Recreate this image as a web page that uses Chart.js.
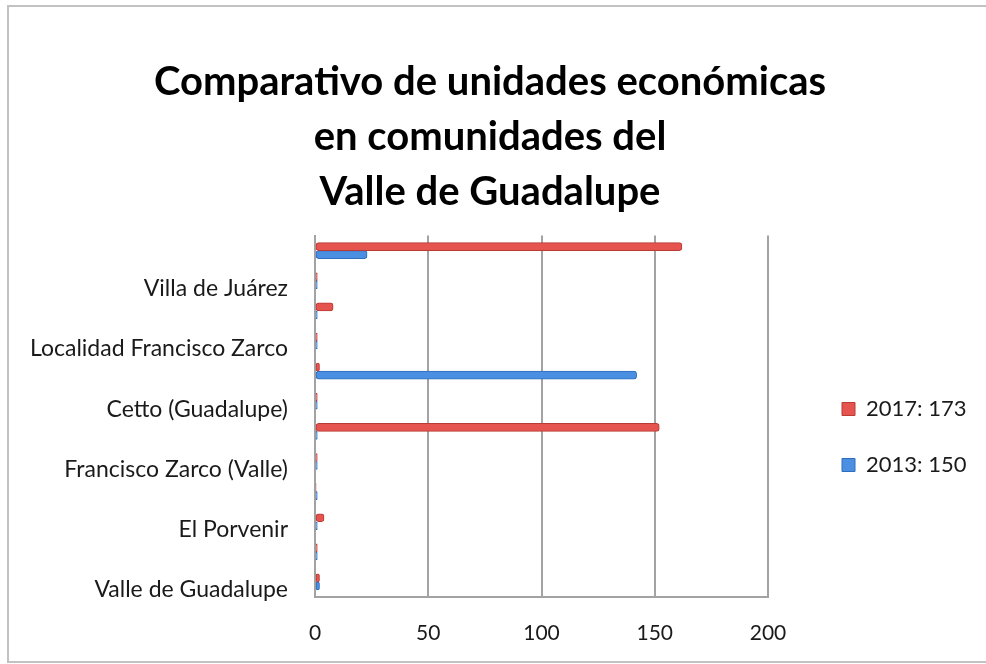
<!DOCTYPE html>
<html>
<head>
<meta charset="utf-8">
<script src="https://cdn.jsdelivr.net/npm/chart.js@4.4.1/dist/chart.umd.min.js"></script>
<style>
  html, body { margin: 0; padding: 0; background: #fff; overflow: hidden; }
  #frame { position: absolute; left: 7px; top: 5px; width: 1200px; height: 654px; border: 2px solid #c2c2c2; border-right: none; }
  #chart { position: absolute; left: 0; top: 0; }
</style>
</head>
<body>
<div id="frame"></div>
<canvas id="chart" width="986" height="664"></canvas>
<script>
const TITLE_LINES = ["Comparativo de unidades económicas", "en comunidades del", "Valle de Guadalupe"];

// top to bottom; Excel only printed every other category name
const categories = [
  "", "Villa de Juárez", "", "Localidad Francisco Zarco", "", "Cetto (Guadalupe)",
  "", "Francisco Zarco (Valle)", "", "El Porvenir", "", "Valle de Guadalupe",
];
const units2017 = [162, 1, 8, 1, 2, 1, 152, 1, 0.5, 4, 1, 2];
const units2013 = [23, 1, 1, 1, 142, 1, 1, 1, 1, 1, 1, 2];
const seriesLabels = ["2017: 173", "2013: 150"];
const xTicks = [0, 50, 100, 150, 200];

const GRID = "#a3a3a3";
const TEXT = "#1a1a1a";
const FONT = "Lato";

// Excel puts the legend well clear of the plot; nudge it over after layout
const legendNudge = {
  id: "legendNudge",
  afterLayout(chart) {
    const lg = chart.legend;
    lg.left += 40;
    lg.right += 40;
    lg.top += 105;
    lg.bottom += 105;
  },
};

new Chart(document.getElementById("chart"), {
  type: "bar",
  data: {
    labels: categories,
    datasets: [
      {
        label: seriesLabels[0],
        data: units2017,
        backgroundColor: "#e5544e",
        borderColor: "#b93b36",
        borderWidth: 1,
        borderRadius: 3,
        borderSkipped: false,
        barThickness: 8,
      },
      {
        label: seriesLabels[1],
        data: units2013,
        backgroundColor: "#4b8fe2",
        borderColor: "#2f6cbc",
        borderWidth: 1,
        borderRadius: 3,
        borderSkipped: false,
        barThickness: 8,
      },
    ],
  },
  options: {
    responsive: false,
    animation: false,
    devicePixelRatio: 1,
    indexAxis: "y",
    layout: { padding: { top: 0, left: 20, right: 26, bottom: 0 } },
    plugins: {
      title: {
        display: true,
        text: TITLE_LINES,
        color: "#000",
        font: { family: FONT, size: 40, weight: "bold", lineHeight: 1.38 },
        padding: { top: 54, bottom: 16 },
      },
      legend: {
        position: "right",
        labels: {
          boxWidth: 13,
          boxHeight: 13,
          padding: 34,
          color: TEXT,
          font: { family: FONT, size: 22 },
        },
      },
      tooltip: { enabled: false },
    },
    scales: {
      x: {
        min: 0,
        max: 200,
        afterBuildTicks: (axis) => { axis.ticks = xTicks.map((v) => ({ value: v })); },
        afterFit: (axis) => {
          axis.height = 67;
          axis.paddingRight = 218; // keeps the plot's right edge at the 200 line
        },
        grid: { color: GRID, lineWidth: 2, drawTicks: false },
        border: { color: GRID, width: 2 },
        ticks: { color: TEXT, padding: 24, font: { family: FONT, size: 21 } },
      },
      y: {
        afterFit: (axis) => { axis.width = 295; },
        grid: { display: false, drawTicks: false },
        border: { color: GRID, width: 2 },
        ticks: { autoSkip: false, labelOffset: 8, padding: 27, color: TEXT, font: { family: FONT, size: 23 } },
      },
    },
  },
  plugins: [legendNudge],
});
</script>
</body>
</html>
